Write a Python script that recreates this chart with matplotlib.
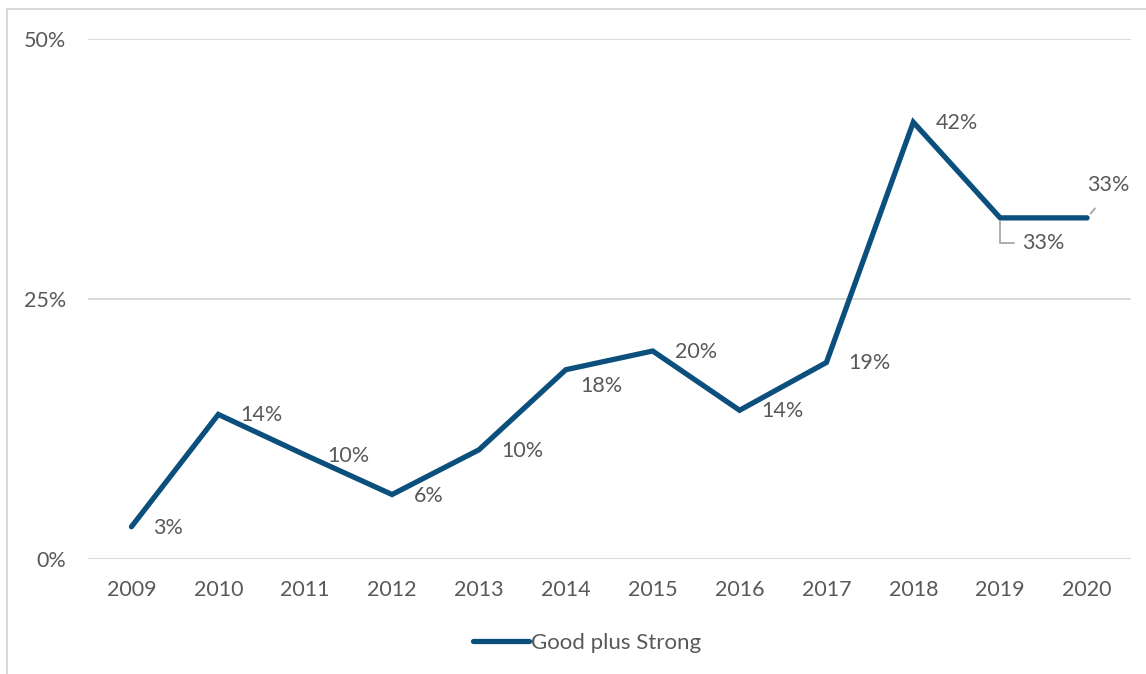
import matplotlib.pyplot as plt
from matplotlib.lines import Line2D

years = ['2009', '2010', '2011', '2012', '2013', '2014', '2015', '2016', '2017', '2018', '2019', '2020']
good_plus_strong = [0.031, 0.139, 0.100, 0.062, 0.105, 0.182, 0.200, 0.143, 0.189, 0.420, 0.328, 0.328]
labels = ['3%', '14%', '10%', '6%', '10%', '18%', '20%', '14%', '19%', '42%', '33%', '33%']

navy = '#0B4F7D'
grey = '#595959'
fs = 15.5
plt.rcParams['font.family'] = ['Lato', 'DejaVu Sans']

fig = plt.figure(figsize=(11.46, 6.74), dpi=100)
ax = fig.add_axes([88 / 1146, 1 - 559 / 674, (1130.5 - 88) / 1146, (559 - 39) / 674])

x = list(range(len(years)))
ax.plot(x, good_plus_strong, color=navy, lw=3.8, solid_capstyle='round',
        solid_joinstyle='miter', label='Good plus Strong', zorder=3)

ax.set_xlim(-0.5, len(years) - 0.5)
ax.set_ylim(0, 0.5)
ax.set_yticks([0, 0.25, 0.5])
ax.set_yticklabels(['0%', '25%', '50%'])
ax.set_xticks(x)
ax.set_xticklabels(years)
ax.tick_params(length=0, labelsize=fs, colors=grey)
ax.tick_params(axis='y', pad=16)
ax.tick_params(axis='x', pad=15)
ax.grid(axis='y', color='#D9D9D9', lw=1.4)
for s in ax.spines.values():
    s.set_visible(False)

# data labels
offsets = {5: (14, -16)}
for i, (v, t) in enumerate(zip(good_plus_strong, labels)):
    if i >= 10:
        continue
    dx, dy = offsets.get(i, (22, -1))
    ax.annotate(t, (i, v), xytext=(dx, dy), textcoords='offset pixels',
                ha='left', va='center', fontsize=fs, color=grey)

ax.annotate(labels[10], (10, good_plus_strong[10]), xytext=(22, -25), textcoords='offset pixels',
            ha='left', va='center', fontsize=fs, color=grey,
            arrowprops=dict(arrowstyle='-', color='#A6A6A6', lw=1.3, shrinkA=4, shrinkB=2,
                            connectionstyle='angle,angleA=0,angleB=90,rad=0'))
ax.annotate(labels[11], (11, good_plus_strong[11]), xytext=(0, 33), textcoords='offset pixels',
            ha='left', va='center', fontsize=fs, color=grey,
            arrowprops=dict(arrowstyle='-', color='#A6A6A6', lw=1.3, shrinkA=10, shrinkB=4,
                            relpos=(0.45, 0)))

leg = ax.legend(loc='center', bbox_to_anchor=(587 / 1146, 31 / 674), bbox_transform=fig.transFigure,
                frameon=False, fontsize=16, handlelength=2.5, handletextpad=0.1)
for t in leg.get_texts():
    t.set_color(grey)

# chart border (top and left visible)
fig.add_artist(Line2D([7 / 1146, 7 / 1146], [0, 1 - 9 / 674], color='#D9D9D9', lw=1.5,
                      transform=fig.transFigure))
fig.add_artist(Line2D([7 / 1146, 1], [1 - 9 / 674, 1 - 9 / 674], color='#D9D9D9', lw=1.5,
                      transform=fig.transFigure))

plt.savefig('out.png', dpi=100)
